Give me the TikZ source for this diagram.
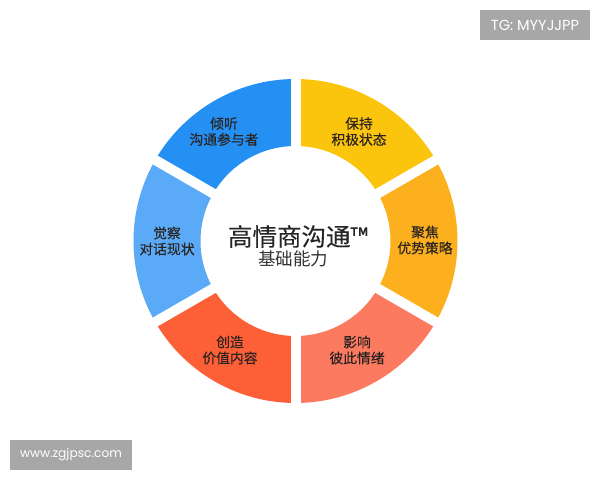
\documentclass[tikz,border=0pt]{standalone}
\usepackage{fontspec}
\usetikzlibrary{calc}
\setmainfont{Noto Sans CJK SC}
\newfontfamily\labelfont[FakeBold=0.15]{Noto Sans CJK SC}
\newfontfamily\tagfont{Poppins}
\definecolor{keepcol}{HTML}{FCC50D}
\definecolor{focuscol}{HTML}{FDB01E}
\definecolor{movecol}{HTML}{FB7A60}
\definecolor{makecol}{HTML}{FD5F37}
\definecolor{sensecol}{HTML}{5AAAF8}
\definecolor{listencol}{HTML}{2490F4}
\definecolor{inkcol}{HTML}{2A2320}
\definecolor{tagcol}{HTML}{A7A7A7}
\tikzset{
  seglabel/.style = {align=center,inner sep=0pt,text=inkcol,font=\labelfont\fontsize{13.8}{16}\selectfont},
  taglabel/.style = {fill=tagcol,text=white,inner sep=0pt,minimum height=30pt}
}
\begin{document}
\begin{tikzpicture}[x=1pt,y=1pt]
\useasboundingbox (0,0) rectangle (600,480);
\fill[white] (0,0) rectangle (600,480);
\coordinate (ring) at (295.5,239);
% ring pieces
\foreach \a/\b/\col in {30/90/keepcol,-30/30/focuscol,-90/-30/movecol,-150/-90/makecol,-210/-150/sensecol,-270/-210/listencol}
  \fill[\col] ($(ring)+(\a:162)$) arc[start angle=\a,end angle=\b,radius=162pt]
    -- ($(ring)+(\b:95)$) arc[start angle=\b,end angle=\a,radius=95pt] -- cycle;
% gaps
\foreach \a in {90,30,-30}
  \draw[white,line width=10pt] ($(ring)+(\a:170)$) -- ($(ring)+(\a+180:170)$);
\node[seglabel] (keep) at (359,348.5) {保持\\积极状态};
\node[seglabel] (focus) at (425,240) {聚焦\\优势策略};
\node[seglabel] (move) at (357,130) {影响\\彼此情绪};
\node[seglabel] (make) at (230,130) {创造\\价值内容};
\node[seglabel] (sense) at (167,239) {觉察\\对话现状};
\node[seglabel] (listen) at (224,348.5) {倾听\\沟通参与者};
\node[inner sep=0pt,text=black!85] (title) at (298,243.5) {\labelfont\fontsize{24.5}{30}\selectfont 高情商沟通™};
\node[inner sep=0pt,text=black!80] (sub) at (293,221) {\fontsize{17.5}{21}\selectfont 基础能力};
\node[taglabel,minimum width=110pt,font=\tagfont\fontsize{14.6}{16}\selectfont] (tg) at (535,455) {TG: MYYJJPP};
\node[taglabel,minimum width=122pt,font=\tagfont\fontsize{12.2}{14}\selectfont] (web) at (71,25) {www.zgjpsc.com};
\end{tikzpicture}
\end{document}
